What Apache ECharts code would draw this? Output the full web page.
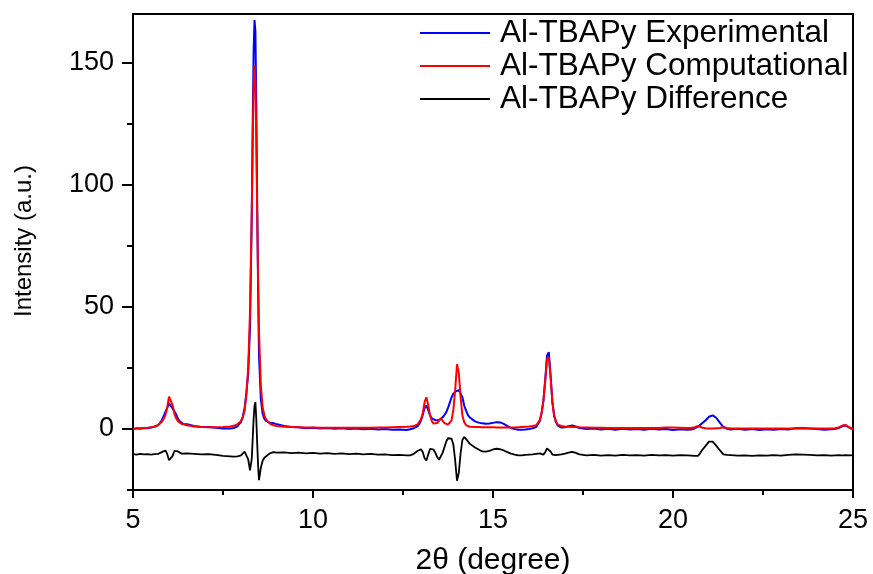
<!DOCTYPE html>
<html>
<head>
<meta charset="utf-8">
<title>Al-TBAPy PXRD</title>
<script src="https://cdn.jsdelivr.net/npm/echarts@6/dist/echarts.min.js"></script>
<style>
  html, body { margin: 0; padding: 0; background: #fff; }
  #chart { width: 873px; height: 574px; }
</style>
</head>
<body>
<div id="chart"></div>
<script>
// 2θ positions (degrees) shared by all three patterns
const twoTheta = [
  5.0, 5.1, 5.2, 5.3, 5.4, 5.5, 5.6, 5.7,
  5.75, 5.8, 5.85, 5.9, 5.95, 6.0, 6.05, 6.1, 6.15, 6.2, 6.25, 6.3, 6.35, 6.4,
  6.5, 6.7, 6.9, 7.1, 7.3, 7.5, 7.7,
  7.8, 7.9, 8.0, 8.05, 8.1, 8.15, 8.2, 8.25, 8.3, 8.325, 8.35, 8.375, 8.4, 8.425, 8.45, 8.475, 8.5, 8.55, 8.6, 8.65, 8.7, 8.8, 8.9, 9.0,
  9.2, 9.4, 9.6, 9.8, 10.0, 10.2, 10.4, 10.6, 10.8, 11.0, 11.2, 11.4, 11.6, 11.8, 12.0, 12.2, 12.4, 12.6,
  12.7, 12.75, 12.8, 12.85, 12.9, 12.95, 13.0, 13.05, 13.1, 13.15, 13.2, 13.25, 13.3, 13.35, 13.4, 13.45, 13.5, 13.55, 13.6, 13.65,
  13.7, 13.75, 13.8, 13.85, 13.9, 13.95, 14.0, 14.05, 14.1, 14.15, 14.2, 14.25, 14.3, 14.35, 14.4, 14.5, 14.6, 14.7, 14.8,
  14.9, 15.0, 15.1, 15.2, 15.3, 15.4, 15.5, 15.6, 15.7, 15.8, 15.9, 16.0, 16.1, 16.2,
  16.25, 16.3, 16.35, 16.4, 16.45, 16.5, 16.55, 16.6, 16.65, 16.7, 16.75, 16.8,
  16.9, 17.0, 17.1, 17.2, 17.3, 17.4, 17.6, 17.8, 18.0, 18.2, 18.4, 18.6, 18.8, 19.0, 19.2, 19.4, 19.6, 19.8, 20.0, 20.2, 20.4,
  20.5, 20.6, 20.65, 20.7, 20.75, 20.8, 20.9, 21.0, 21.05, 21.1, 21.2, 21.3, 21.4, 21.5,
  21.6, 21.8, 22.0, 22.2, 22.4, 22.6, 22.8, 23.0, 23.2, 23.4, 23.6, 23.8, 24.0, 24.2, 24.4, 24.5, 24.6, 24.7, 24.75, 24.8, 24.9, 25.0
];

// measured pattern
const experimental = [
  -0.1, 0.3, 0.1, 0.4, 0.3, 0.6, 0.9, 1.6,
  2.5, 3.6, 5.2, 7.0, 8.6, 10.5, 10.6, 8.4, 7.2, 5.9, 4.2, 3.1, 2.4, 2.0,
  1.9, 1.2, 0.8, 0.8, 0.5, 0.2, 0.2,
  0.4, 1.1, 2.9, 5.1, 8.6, 14.9, 22.9, 41.4, 88.4, 124.4, 154.4, 167.5, 162.9, 132.4, 92.4, 57.4, 29.9, 12.4, 6.4, 4.1, 3.2, 2.6, 2.4, 1.9,
  1.2, 0.8, 0.7, 0.3, 0.5, 0.2, 0.4, 0.1, 0.3, 0.0, 0.2, -0.1, 0.1, -0.2, 0.0, -0.3, -0.2, -0.4,
  -0.1, 0.1, 0.3, 0.6, 1.1, 2.0, 3.4, 5.8, 8.6, 9.6, 7.8, 5.6, 4.3, 3.8, 3.6, 3.5, 3.6, 4.1, 4.8, 5.7,
  6.8, 8.6, 10.8, 13.0, 14.4, 15.3, 15.8, 15.9, 15.3, 13.0, 9.6, 7.6, 5.8, 4.8, 4.0, 3.1, 2.6, 2.3, 2.1,
  2.2, 2.5, 2.8, 2.7, 2.1, 1.2, 0.4, 0.0, -0.3, -0.3, -0.2, 0.0, 0.3, 0.8,
  2.0, 3.3, 6.5, 11.5, 20.0, 30.0, 31.5, 22.0, 11.0, 5.2, 2.8, 1.4,
  0.6, 0.7, 1.1, 1.4, 1.0, 0.4, 0.0, 0.2, -0.2, 0.1, -0.3, 0.1, -0.2, 0.0, -0.3, 0.1, -0.2, 0.0, -0.4, -0.1, -0.3,
  -0.2, 0.2, 0.6, 1.0, 1.5, 2.2, 3.5, 5.0, 5.7, 5.6, 4.6, 2.6, 0.8, 0.1,
  -0.2, 0.1, -0.3, 0.0, -0.4, -0.1, -0.3, 0.0, -0.2, 0.3, 0.4, 0.2, 0.0, -0.3, -0.1, 0.0, 0.4, 1.1, 1.6, 1.4, 0.5, -0.1
];

// simulated pattern
const computational = [
  0.1, 0.2, 0.3, 0.4, 0.5, 0.7, 1.0, 1.6,
  2.4, 3.0, 4.0, 5.7, 8.7, 13.2, 13.4, 9.8, 6.2, 4.3, 3.2, 2.5, 2.1, 1.9,
  1.5, 1.0, 0.8, 0.7, 0.7, 0.8, 1.0,
  1.3, 1.9, 3.3, 4.7, 7.5, 14, 25, 48, 90, 118, 140, 149, 142, 118, 88, 62, 40, 18, 9, 5.5, 3.8, 2.2, 1.5, 1.2,
  0.9, 0.8, 0.7, 0.6, 0.6, 0.5, 0.5, 0.5, 0.5, 0.5, 0.5, 0.5, 0.5, 0.6, 0.6, 0.7, 0.8, 0.9,
  1.0, 1.1, 1.2, 1.4, 1.8, 2.6, 4.0, 6.5, 11.0, 13.0, 9.8, 5.8, 3.2, 2.2, 2.0, 2.4, 3.4, 4.3, 3.6, 2.4,
  1.9, 1.8, 2.3, 3.5, 8.0, 16.0, 26.5, 23.0, 13.0, 5.5, 2.8, 1.6, 1.1, 0.9, 0.8, 0.8, 0.8, 0.7, 0.7,
  0.7, 0.7, 0.6, 0.6, 0.6, 0.6, 0.6, 0.6, 0.7, 0.8, 0.9, 1.0, 1.2, 1.5,
  2.2, 3.6, 6.5, 11.5, 19.5, 28.5, 29.5, 21.0, 11.0, 5.5, 3.0, 1.8,
  1.2, 1.0, 0.9, 0.8, 0.8, 0.7, 0.6, 0.5, 0.5, 0.4, 0.4, 0.4, 0.4, 0.4, 0.4, 0.4, 0.4, 0.6, 0.6, 0.5, 0.4,
  0.4, 0.7, 1.0, 1.2, 1.0, 0.6, 0.3, 0.2, 0.2, 0.2, 0.3, 0.4, 0.7, 0.4,
  0.3, 0.2, 0.2, 0.2, 0.2, 0.2, 0.2, 0.2, 0.2, 0.2, 0.2, 0.2, 0.2, 0.2, 0.2, 0.3, 0.6, 1.4, 1.8, 1.6, 0.6, 0.0
];

// difference curve, plotted with its own offset below the patterns
const difference = [
  -10.3, -10.5, -10.2, -10.4, -10.3, -10.5, -10.3, -10.2,
  -10.0, -9.5, -9.0, -8.8, -10.2, -12.8, -13.2, -11.0, -9.0, -8.5, -9.2, -9.8, -10.1, -10.2,
  -10.0, -10.2, -10.4, -10.3, -10.6, -11.0, -11.2,
  -11.3, -11.2, -10.8, -10.0, -9.3, -9.5, -12.5, -17.0, -12.0, -4.0, 4.0, 9.5, 11.0, 4.0, -6.0, -15.0, -21.0, -16.0, -13.0, -11.8, -11.0, -10.0, -9.5, -9.7,
  -9.6, -9.9, -9.7, -10.0, -9.8, -10.1, -9.9, -10.2, -10.0, -10.3, -10.1, -10.4, -10.2, -10.5, -10.4, -10.7, -10.6, -10.8,
  -10.8, -10.6, -10.2, -9.6, -9.0, -8.3, -8.3, -9.5, -12.0, -12.9, -10.5, -8.2, -7.7, -8.5, -9.8, -11.5, -12.6, -12.0, -9.8, -7.5,
  -5.2, -3.8, -3.3, -4.0, -6.5, -13.0, -21.2, -18.0, -10.0, -4.5, -3.3, -4.0, -5.0, -6.0, -6.6, -7.6, -8.4, -9.2, -9.3,
  -9.0, -8.4, -8.1, -8.3, -8.8, -9.5, -10.1, -10.5, -10.8, -10.8, -10.6, -10.5, -10.4, -10.2,
  -10.0, -10.0, -10.3, -10.5, -9.5, -8.0, -7.8, -9.2, -10.5, -10.8, -10.7, -10.6,
  -10.4, -10.1, -9.7, -9.4, -9.8, -10.4, -10.8, -10.6, -10.9, -10.7, -10.9, -10.6, -10.8, -10.7, -10.9, -10.6, -10.8, -10.7, -10.9, -10.7, -10.8,
  -10.9, -11.0, -11.1, -11.0, -10.0, -8.8, -7.0, -5.2, -4.7, -5.2, -6.8, -8.7, -10.4, -10.6,
  -10.7, -10.9, -10.8, -11.0, -10.8, -10.9, -10.7, -10.9, -10.6, -10.4, -10.5, -10.6, -10.8, -10.7, -10.9, -10.8, -10.7, -10.8, -10.6, -10.7, -10.8, -10.7
];

const xTicks = [5, 10, 15, 20, 25];
const yMajorTicks = [0, 50, 100, 150];
const yMinorTicks = [-25, 25, 75, 125];

const seriesNames = ['Al-TBAPy Experimental', 'Al-TBAPy Computational', 'Al-TBAPy Difference'];

const FONT = '"Liberation Sans", Arial, Helvetica, sans-serif';
const pairs = ys => twoTheta.map((x, i) => [x, ys[i]]);

const chart = echarts.init(document.getElementById('chart'), null, { renderer: 'canvas' });

const axisLine = { show: true, onZero: false, lineStyle: { color: '#000', width: 2 } };

chart.setOption({
  animation: false,
  backgroundColor: '#fff',
  textStyle: { fontFamily: FONT },
  grid: {
    left: 133, right: 20, top: 14, bottom: 84,
    show: true, borderColor: '#000', borderWidth: 2,
    containLabel: false, outerBoundsMode: 'none'
  },
  legend: {
    orient: 'vertical',
    left: 420, top: 17,
    padding: 0,
    // plain line swatch, no marker
    icon: 'path://M0,0H70V2H0Z',
    itemWidth: 70, itemHeight: 2, itemGap: 1,
    data: seriesNames,
    textStyle: { fontSize: 31.5, color: '#000', fontFamily: FONT, padding: [0, 0, 0, 5] }
  },
  xAxis: {
    type: 'value',
    min: xTicks[0], max: xTicks[xTicks.length - 1], interval: 5,
    axisLine,
    axisTick: { show: true, length: 8, lineStyle: { color: '#000', width: 2 } },
    minorTick: { show: true, splitNumber: 2, length: 5, lineStyle: { color: '#000', width: 2 } },
    axisLabel: { fontSize: 27, color: '#000', margin: 17, fontFamily: FONT },
    splitLine: { show: false },
    minorSplitLine: { show: false },
    name: '2θ (degree)',
    nameLocation: 'middle',
    nameGap: 56,
    nameTextStyle: { fontSize: 30, color: '#000', fontFamily: FONT }
  },
  yAxis: [
    {
      type: 'value', min: -25, max: 170,
      axisLine,
      axisTick: { show: true, length: 11, customValues: yMajorTicks, lineStyle: { color: '#000', width: 2 } },
      axisLabel: { fontSize: 27, color: '#000', margin: 19, customValues: yMajorTicks, fontFamily: FONT },
      splitLine: { show: false },
      name: 'Intensity (a.u.)',
      nameLocation: 'middle',
      nameGap: 97,
      nameTextStyle: { fontSize: 24, color: '#000', fontFamily: FONT, padding: [0, 0, 0, 22] }
    },
    {
      type: 'value', min: -25, max: 170, position: 'left',
      axisLine: { show: false },
      axisTick: { show: true, length: 6, customValues: yMinorTicks, lineStyle: { color: '#000', width: 2 } },
      axisLabel: { show: false },
      splitLine: { show: false }
    }
  ],
  series: [
    {
      name: seriesNames[0], type: 'line', data: pairs(experimental),
      symbol: 'none', lineStyle: { color: '#0000ff', width: 2 }, itemStyle: { color: '#0000ff' }, z: 2
    },
    {
      name: seriesNames[1], type: 'line', data: pairs(computational),
      symbol: 'none', lineStyle: { color: '#ff0000', width: 2 }, itemStyle: { color: '#ff0000' }, z: 3
    },
    {
      name: seriesNames[2], type: 'line', data: pairs(difference),
      symbol: 'none', lineStyle: { color: '#000000', width: 1.8 }, itemStyle: { color: '#000000' }, z: 2
    }
  ]
});
</script>
</body>
</html>
